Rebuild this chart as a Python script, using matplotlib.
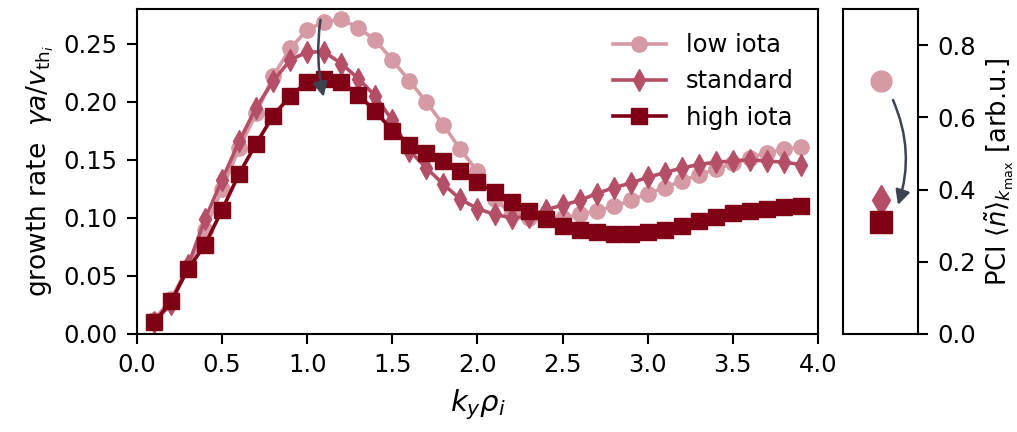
import matplotlib
matplotlib.use('Agg')
import matplotlib.pyplot as plt

ky = [round(0.1 * k, 1) for k in range(1, 40)]

low_iota = [0.012, 0.030, 0.058, 0.090, 0.125, 0.160, 0.190, 0.222, 0.246, 0.262,
            0.269, 0.271, 0.264, 0.253, 0.236, 0.218, 0.200, 0.180, 0.159, 0.140,
            0.116, 0.104, 0.100, 0.099, 0.100, 0.103, 0.106, 0.110, 0.115, 0.121,
            0.126, 0.132, 0.137, 0.142, 0.147, 0.152, 0.156, 0.159, 0.161]
standard = [0.010, 0.026, 0.059, 0.099, 0.133, 0.166, 0.195, 0.218, 0.236, 0.243,
            0.243, 0.233, 0.220, 0.205, 0.184, 0.158, 0.143, 0.129, 0.116, 0.108,
            0.103, 0.100, 0.101, 0.107, 0.111, 0.115, 0.121, 0.126, 0.130, 0.135,
            0.139, 0.143, 0.146, 0.148, 0.149, 0.150, 0.149, 0.148, 0.146]
high_iota = [0.010, 0.028, 0.056, 0.077, 0.107, 0.138, 0.164, 0.188, 0.205, 0.217,
             0.220, 0.217, 0.206, 0.192, 0.175, 0.163, 0.156, 0.149, 0.140, 0.131,
             0.122, 0.114, 0.106, 0.099, 0.093, 0.090, 0.088, 0.086, 0.086, 0.088,
             0.090, 0.093, 0.097, 0.101, 0.104, 0.106, 0.108, 0.109, 0.110]

labels = ['low iota', 'standard', 'high iota']
pci = [0.70, 0.37, 0.31]

colors = ['#d59aa4', '#b44f67', '#7f0014']
markers = ['o', 'd', 's']

fig = plt.figure(figsize=(10.17, 4.32), dpi=100)
ax = fig.add_axes([0.1347, 0.2269, 0.6696, 0.7523])
ax2 = fig.add_axes([0.829, 0.2269, 0.0737, 0.7523])

for ys, c, m, lab in zip([low_iota, standard, high_iota], colors, markers, labels):
    ax.plot(ky, ys, color=c, marker=m, ms=11, lw=2.6, label=lab)

ax.set_xlim(0, 4.0)
ax.set_ylim(0, 0.28)
ax.set_xticks([0.0, 0.5, 1.0, 1.5, 2.0, 2.5, 3.0, 3.5, 4.0])
ax.set_yticks([0.0, 0.05, 0.10, 0.15, 0.20, 0.25])
ax.tick_params(labelsize=17.5, width=1.5, length=7, pad=7)
ax.set_xlabel(r'$k_y\rho_i$', fontsize=21, labelpad=7)
ax.set_ylabel(r'growth rate  $\gamma a/v_{\mathrm{th}_i}$', fontsize=19, labelpad=5)
for s in ax.spines.values():
    s.set_linewidth(1.5)
ax.legend(loc='upper right', frameon=False, fontsize=17.5, handlelength=2.2,
          borderaxespad=0.6)

ax.annotate('', xy=(1.10, 0.202), xytext=(1.08, 0.273),
            arrowprops=dict(arrowstyle='-|>', color='#3b4450', lw=1.8,
                            mutation_scale=22, connectionstyle='arc3,rad=0.1'))

for v, c, m, size in zip(pci, colors, markers, [15, 15, 16]):
    ax2.plot(0.5, v, color=c, marker=m, ms=size, ls='none')
ax2.set_xlim(0, 1)
ax2.set_ylim(0, 0.9)
ax2.set_xticks([])
ax2.set_yticks([0.0, 0.2, 0.4, 0.6, 0.8])
ax2.yaxis.tick_right()
ax2.yaxis.set_label_position('right')
ax2.tick_params(labelsize=17.5, width=1.5, length=7, pad=7)
ax2.set_ylabel(r'PCI $\langle\tilde{n}\rangle_{k_{\max}}$ [arb.u.]', fontsize=18.5,
               labelpad=4)
for s in ax2.spines.values():
    s.set_linewidth(1.5)
ax2.annotate('', xy=(0.72, 0.35), xytext=(0.65, 0.655),
             arrowprops=dict(arrowstyle='-|>', color='#3b4450', lw=1.8,
                             mutation_scale=22, connectionstyle='arc3,rad=-0.2'))

fig.savefig('out.png', dpi=100)
